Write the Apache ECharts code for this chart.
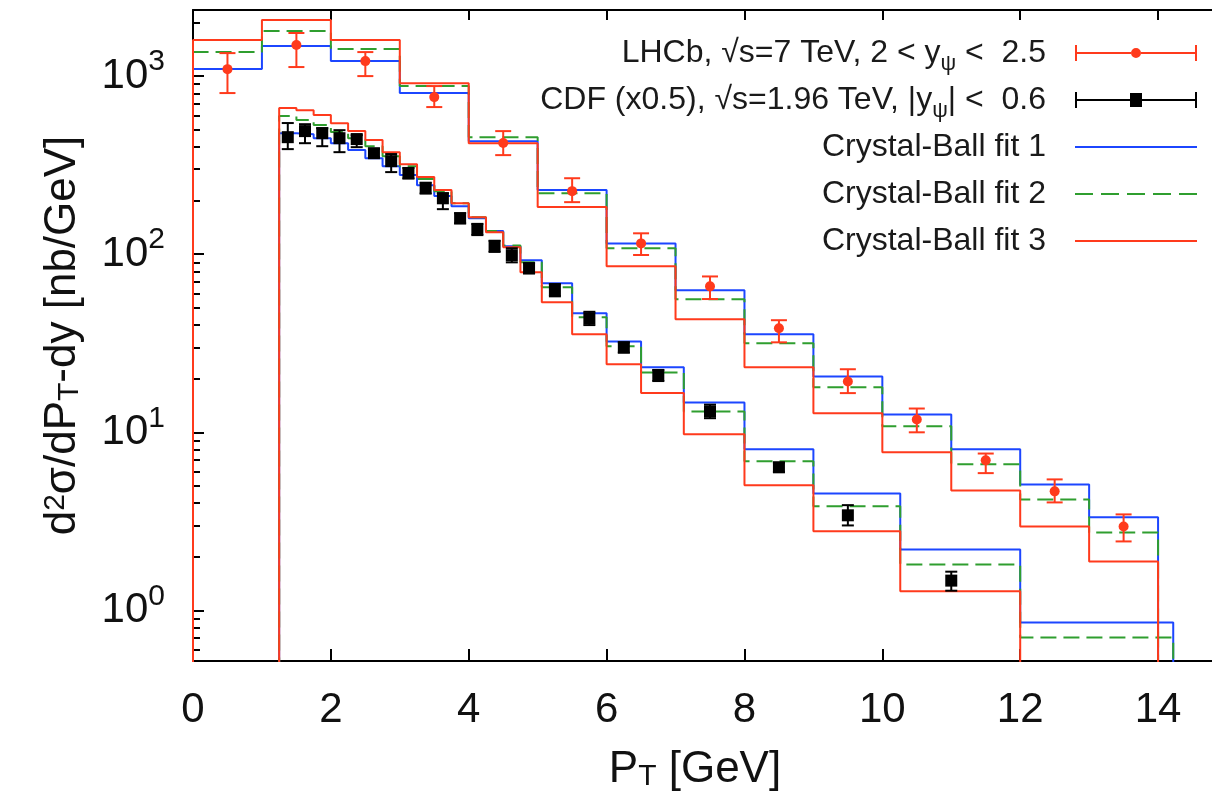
<!DOCTYPE html>
<html>
<head>
<meta charset="utf-8">
<script src="https://cdn.jsdelivr.net/npm/echarts@6/dist/echarts.min.js"></script>
<style>
  html, body { margin: 0; padding: 0; background: #fff; }
</style>
</head>
<body>
<div id="main" style="width:1212px;height:802px;"></div>
<script>
// ---- data ----
// LHCb bins (GeV)
var lhcbEdges = [0, 1, 2, 3, 4, 5, 6, 7, 8, 9, 10, 11, 12, 13, 14];
var fit1Lhcb = [1095, 1474, 1214, 803, 431, 229, 115, 62.8, 35.5, 20.6, 12.6, 8.03, 5.10, 3.33];
var fit2Lhcb = [1364, 1789, 1418, 879, 454, 220, 108, 55.9, 31.6, 17.9, 10.8, 6.61, 4.20, 2.74];
var fit3Lhcb = [1593, 2064, 1593, 913, 420, 184, 85.6, 43.1, 23.2, 12.8, 7.72, 4.72, 2.96, 1.88];

var lhcbX  = [0.5, 1.5, 2.5, 3.5, 4.5, 5.5, 6.5, 7.5, 8.5, 9.5, 10.5, 11.5, 12.5, 13.5];
var lhcbY  = [1094, 1494, 1214, 762, 421, 226, 115, 66, 38.4, 19.3, 11.8, 6.96, 4.66, 2.96];
var lhcbHi = [1346, 1745, 1364, 879, 491, 267, 131, 75, 42.6, 22.6, 13.6, 7.6, 5.44, 3.46];
var lhcbLo = [803, 1124, 1000, 670, 360, 196, 99, 56, 32, 16.6, 10, 5.9, 4.04, 2.44];

// CDF bins (x0.5)
var cdfEdges = [1.25, 1.5, 1.75, 2, 2.25, 2.5, 2.75, 3, 3.25, 3.5, 3.75, 4, 4.25, 4.5, 4.75,
                5.06, 5.5, 6, 6.5, 7.12, 8, 9, 10.26, 12, 14.22];
var fit1Cdf = [478, 472, 448, 420, 384, 346, 312, 278, 244, 212, 186, 159, 135, 111,
               92.5, 68.7, 46.6, 32.4, 23.2, 14.7, 8.03, 4.54, 2.20, 0.856];
var fit2Cdf = [596, 566, 531, 485, 448, 404, 355, 312, 264, 226, 193, 161, 135, 112,
               90.2, 65.3, 44.3, 30.4, 21.7, 13.1, 6.87, 3.84, 1.81, 0.705];
var fit3Cdf = [661, 644, 604, 544, 491, 437, 374, 320, 271, 229, 193, 161, 133, 109.5,
               79.2, 53.8, 35.5, 24.1, 16.6, 9.74, 5.04, 2.78, 1.28, 0.45];

var cdfX  = [1.375, 1.625, 1.875, 2.125, 2.375, 2.625, 2.875, 3.125, 3.375, 3.625, 3.875, 4.125,
             4.375, 4.625, 4.875, 5.25, 5.75, 6.25, 6.75, 7.5, 8.5, 9.5, 11];
var cdfY  = [454, 491, 478, 448, 443, 369, 333, 285, 235, 206, 159, 138, 111, 98.7, 83.4,
             62.8, 43.7, 30.0, 20.9, 13.1, 6.36, 3.42, 1.47];
var cdfHi = [545, 537, 510, 497, 466, 390, 365, 305, 252, 220, 170, 148, 119, 108, 89,
             68, 47.5, 32, 22.4, 14.3, 6.75, 3.9, 1.65];
var cdfLo = [389, 420, 404, 374, 399, 350, 289, 266, 219, 179, 149, 128, 103, 90, 78,
             58, 40, 28, 19.4, 12.0, 6.0, 3.0, 1.29];

var xTicks = [0, 2, 4, 6, 8, 10, 12, 14];

// ---- styling ----
var FONT = "'Liberation Sans', Arial, Helvetica, sans-serif";
var BLUE = '#1c46ff', GREEN = '#2f9e2f', RED = '#ff3a1c', BLACK = '#000';
var FLOOR = 0.1;   // histeps ends drop to the bottom of the frame

var legendText = {
  'lhcb': 'LHCb, \u221As=7 TeV, 2 < y{sub|\u03C8} <  2.5',
  'cdf': 'CDF (x0.5), \u221As=1.96 TeV, |y{sub|\u03C8}| <  0.6',
  'fit1': 'Crystal-Ball fit 1',
  'fit2': 'Crystal-Ball fit 2',
  'fit3': 'Crystal-Ball fit 3'
};

// histogram edges + bin values -> step line points
function steps(edges, vals) {
  var pts = [[edges[0], FLOOR]];
  for (var i = 0; i < vals.length; i++) pts.push([edges[i], vals[i]]);
  pts.push([edges[edges.length - 1], vals[vals.length - 1]]);
  pts.push([edges[edges.length - 1], FLOOR]);
  return pts;
}

function points(xs, ys, lo, hi) {
  return xs.map(function (x, i) { return [x, ys[i], lo[i], hi[i]]; });
}

function errorBars(capHalf, marker) {
  return function (params, api) {
    var x = api.value(0);
    var c = api.coord([x, api.value(1)]);
    var lo = api.coord([x, api.value(2)]);
    var hi = api.coord([x, api.value(3)]);
    var color = api.visual('color');
    var st = { stroke: color, lineWidth: 2 };
    var kids = [
      { type: 'line', shape: { x1: c[0], y1: hi[1], x2: c[0], y2: lo[1] }, style: st },
      { type: 'line', shape: { x1: c[0] - capHalf, y1: hi[1], x2: c[0] + capHalf, y2: hi[1] }, style: st },
      { type: 'line', shape: { x1: c[0] - capHalf, y1: lo[1], x2: c[0] + capHalf, y2: lo[1] }, style: st }
    ];
    if (marker === 'circle') {
      kids.push({ type: 'circle', shape: { cx: c[0], cy: c[1], r: 5 }, style: { fill: color } });
    } else {
      kids.push({ type: 'rect', shape: { x: c[0] - 6, y: c[1] - 6, width: 12, height: 12 }, style: { fill: color } });
    }
    return { type: 'group', children: kids };
  };
}

function hist(name, data, color, dashed) {
  return {
    name: name, type: 'line', step: 'end', data: data,
    symbol: 'none', clip: true,
    lineStyle: { color: color, width: 2, type: dashed ? [16, 7] : 'solid' },
    itemStyle: { color: color }
  };
}

var iconLhcb = 'path://M0,0H2V16H0Z M120,0H122V16H120Z M2,7H56V9H2Z M66,7H120V9H66Z M56,8A5,5,0,1,1,66,8A5,5,0,1,1,56,8Z';
var iconCdf = 'path://M0,0H2V16H0Z M120,0H122V16H120Z M2,7H55V9H2Z M67,7H120V9H67Z M55,1H67V15H55Z';
var iconSolid = 'path://M0,0H122V2H0Z';
var iconDash = 'path://M0,0H18V2H0Z M26,0H44V2H26Z M52,0H70V2H52Z M78,0H96V2H78Z M104,0H122V2H104Z';

var myChart = echarts.init(document.getElementById('main'));

var option = {
  animation: false,
  backgroundColor: '#fff',
  grid: { left: 193, top: 10, right: -15, bottom: 141, outerBoundsMode: 'none' },
  legend: {
    orient: 'vertical', align: 'right',
    right: 15, top: 31, padding: 0,
    itemWidth: 122, itemHeight: 16, itemGap: 3,
    textStyle: {
      fontFamily: FONT, fontSize: 32, color: '#1a1a1a', lineHeight: 44,
      padding: [0, 24, 0, 0],
      rich: { sub: { fontSize: 22, lineHeight: 22, padding: [22, 0, 0, 0], verticalAlign: 'bottom' } }
    },
    formatter: function (name) { return legendText[name] || name; },
    data: [
      { name: 'lhcb', icon: iconLhcb },
      { name: 'cdf', icon: iconCdf },
      { name: 'fit1', icon: iconSolid },
      { name: 'fit2', icon: iconDash },
      { name: 'fit3', icon: iconSolid }
    ]
  },
  xAxis: [{
    type: 'value', min: 0, max: 15, interval: 2,
    name: 'P{sub|T} [GeV]', nameLocation: 'middle', nameGap: 66,
    nameTextStyle: {
      fontFamily: FONT, fontSize: 44, color: '#111', padding: [0, 30, 0, 0],
      rich: { sub: { fontSize: 30, lineHeight: 30, padding: [26, 0, 0, 0], verticalAlign: 'bottom' } }
    },
    axisLine: { show: true, lineStyle: { color: BLACK, width: 2 } },
    axisTick: { show: true, inside: true, length: 12, lineStyle: { color: BLACK, width: 2 } },
    axisLabel: {
      fontFamily: FONT, fontSize: 42, color: '#111', margin: 28, showMaxLabel: false,
      formatter: function (v) { return xTicks.indexOf(v) >= 0 ? String(v) : ''; }
    },
    splitLine: { show: false }
  }, {
    type: 'value', position: 'top', min: 0, max: 15, interval: 2,
    axisLine: { show: true, lineStyle: { color: BLACK, width: 2 } },
    axisTick: { show: true, inside: true, length: 10, lineStyle: { color: BLACK, width: 2 } },
    axisLabel: { show: false },
    splitLine: { show: false }
  }],
  yAxis: {
    type: 'log', logBase: 10, min: 0.52, max: 2350,
    name: 'd{sup|2}\u03C3/dP{sub|T}-dy [nb/GeV]', nameLocation: 'middle', nameGap: 108, nameRotate: 90,
    nameTextStyle: {
      fontFamily: FONT, fontSize: 44, color: '#111',
      rich: {
        sup: { fontSize: 30, lineHeight: 30, verticalAlign: 'top' },
        sub: { fontSize: 30, lineHeight: 30, padding: [26, 0, 0, 0], verticalAlign: 'bottom' }
      }
    },
    axisLine: { show: true, lineStyle: { color: BLACK, width: 2 } },
    axisTick: { show: true, inside: true, length: 11, lineStyle: { color: BLACK, width: 2 } },
    minorTick: { show: true, splitNumber: 9, length: 7, lineStyle: { color: BLACK, width: 2 } },
    axisLabel: {
      margin: 28, showMinLabel: false, showMaxLabel: false,
      fontFamily: FONT, color: '#111',
      formatter: function (v) {
        var e = Math.round(Math.log(v) / Math.LN10);
        if (Math.abs(Math.pow(10, e) - v) > 1e-6 * v) return '';
        return '{b|10}{s|' + e + '}';
      },
      rich: {
        b: { fontFamily: FONT, fontSize: 42, lineHeight: 58, color: '#111' },
        s: { fontFamily: FONT, fontSize: 30, lineHeight: 30, verticalAlign: 'top', color: '#111' }
      }
    },
    splitLine: { show: false },
    minorSplitLine: { show: false }
  },
  series: [
    hist('fit1', steps(lhcbEdges, fit1Lhcb), BLUE, false),
    hist('fit1', steps(cdfEdges, fit1Cdf), BLUE, false),
    hist('fit2', steps(lhcbEdges, fit2Lhcb), GREEN, true),
    hist('fit2', steps(cdfEdges, fit2Cdf), GREEN, true),
    hist('fit3', steps(lhcbEdges, fit3Lhcb), RED, false),
    hist('fit3', steps(cdfEdges, fit3Cdf), RED, false),
    {
      name: 'lhcb', type: 'custom', renderItem: errorBars(8, 'circle'),
      data: points(lhcbX, lhcbY, lhcbLo, lhcbHi),
      encode: { x: 0, y: [1, 2, 3] }, clip: true,
      itemStyle: { color: RED }, z: 5
    },
    {
      name: 'cdf', type: 'custom', renderItem: errorBars(6, 'square'),
      data: points(cdfX, cdfY, cdfLo, cdfHi),
      encode: { x: 0, y: [1, 2, 3] }, clip: true,
      itemStyle: { color: BLACK }, z: 5
    }
  ]
};

myChart.setOption(option);
</script>
</body>
</html>
